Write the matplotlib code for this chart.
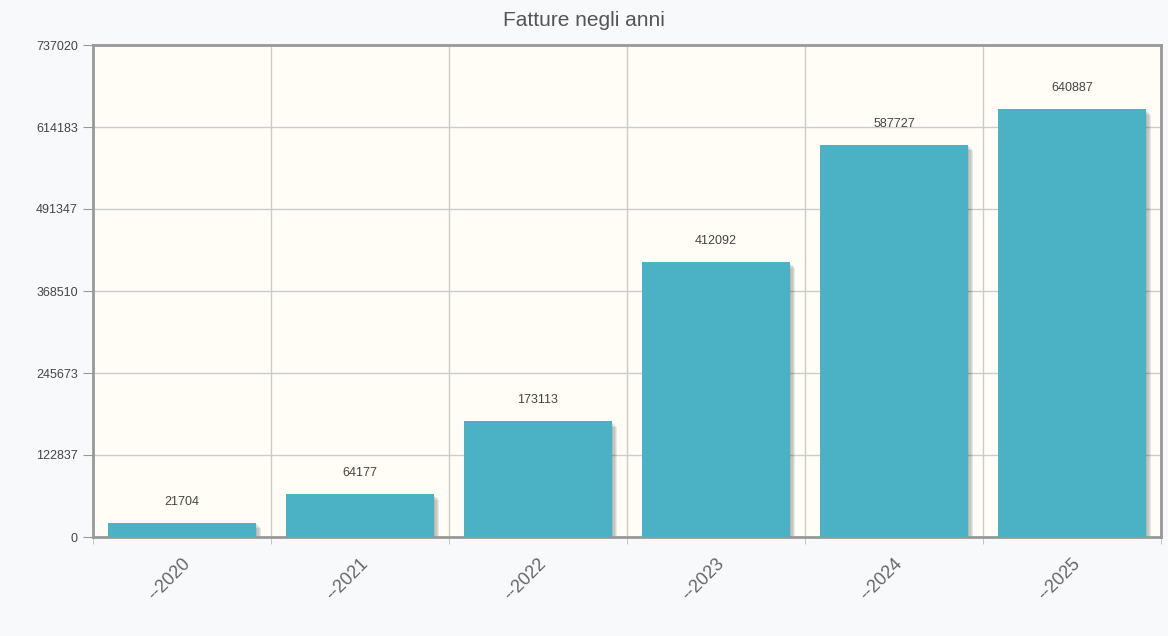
import matplotlib.pyplot as plt
import matplotlib.transforms as mtransforms
import numpy as np

# data
years = ['--2020', '--2021', '--2022', '--2023', '--2024', '--2025']
fatture = [21704, 64177, 173113, 412092, 587727, 640887]
y_ticks = [0, 122837, 245673, 368510, 491347, 614183, 737020]

bar_color = '#4bb2c5'
plt.rcParams['font.family'] = ['Liberation Sans', 'DejaVu Sans']

fig = plt.figure(figsize=(11.68, 6.36), dpi=100)
fig.patch.set_facecolor('#f8f9fa')
ax = fig.add_axes([93 / 1168, 1 - 537 / 636, 1068 / 1168, 492 / 636])
ax.set_facecolor('#fffdf6')

x = np.arange(len(years))
width = 0.83
ymax = y_ticks[-1]

# shadow like jqplot (offset right/down, few layers)
px_x = 1.0 / 178
px_y = ymax / 492
for k in range(1, 5):
    ax.bar(x + k * 1.4 * px_x, fatture, width=width, bottom=-k * 1.4 * px_y,
           color='black', alpha=0.08, zorder=2, linewidth=0)

ax.bar(x, fatture, width=width, color=bar_color, zorder=3, linewidth=0)

# value labels
for xi, v in zip(x, fatture):
    ax.text(xi, v + 15 * px_y, str(v), ha='center', va='bottom',
            fontsize=9, color='#444444', zorder=4)

ax.set_xlim(-0.5, len(years) - 0.5)
ax.set_ylim(0, ymax)

ax.set_yticks(y_ticks)
ax.set_yticklabels([str(t) for t in y_ticks], fontsize=9, color='#444444')
ax.tick_params(axis='y', length=7, color='#999999', pad=4)

ax.set_xticks(x)
ax.set_xticklabels(years, rotation=45, ha='right', rotation_mode='anchor',
                   fontsize=13, color='#666666')
shift = mtransforms.ScaledTranslation(-4 / 100, 0, fig.dpi_scale_trans)
for lab in ax.get_xticklabels():
    lab.set_transform(lab.get_transform() + shift)
ax.set_xticks(np.arange(-0.5, len(years)), minor=True)
ax.tick_params(axis='x', which='major', length=0, pad=13)
ax.tick_params(axis='x', which='minor', length=5, color='#bbbbbb')

ax.grid(axis='y', which='major', color='#cccccc', linewidth=1, zorder=0)
ax.grid(axis='x', which='minor', color='#cccccc', linewidth=1, zorder=0)
ax.set_axisbelow(True)

for s in ax.spines.values():
    s.set_color('#999999')
    s.set_linewidth(2)

fig.text(0.5, 1 - 20 / 636, 'Fatture negli anni', ha='center', va='center',
         fontsize=15, color='#555555')

fig.savefig('out.png', dpi=100, facecolor=fig.get_facecolor())
